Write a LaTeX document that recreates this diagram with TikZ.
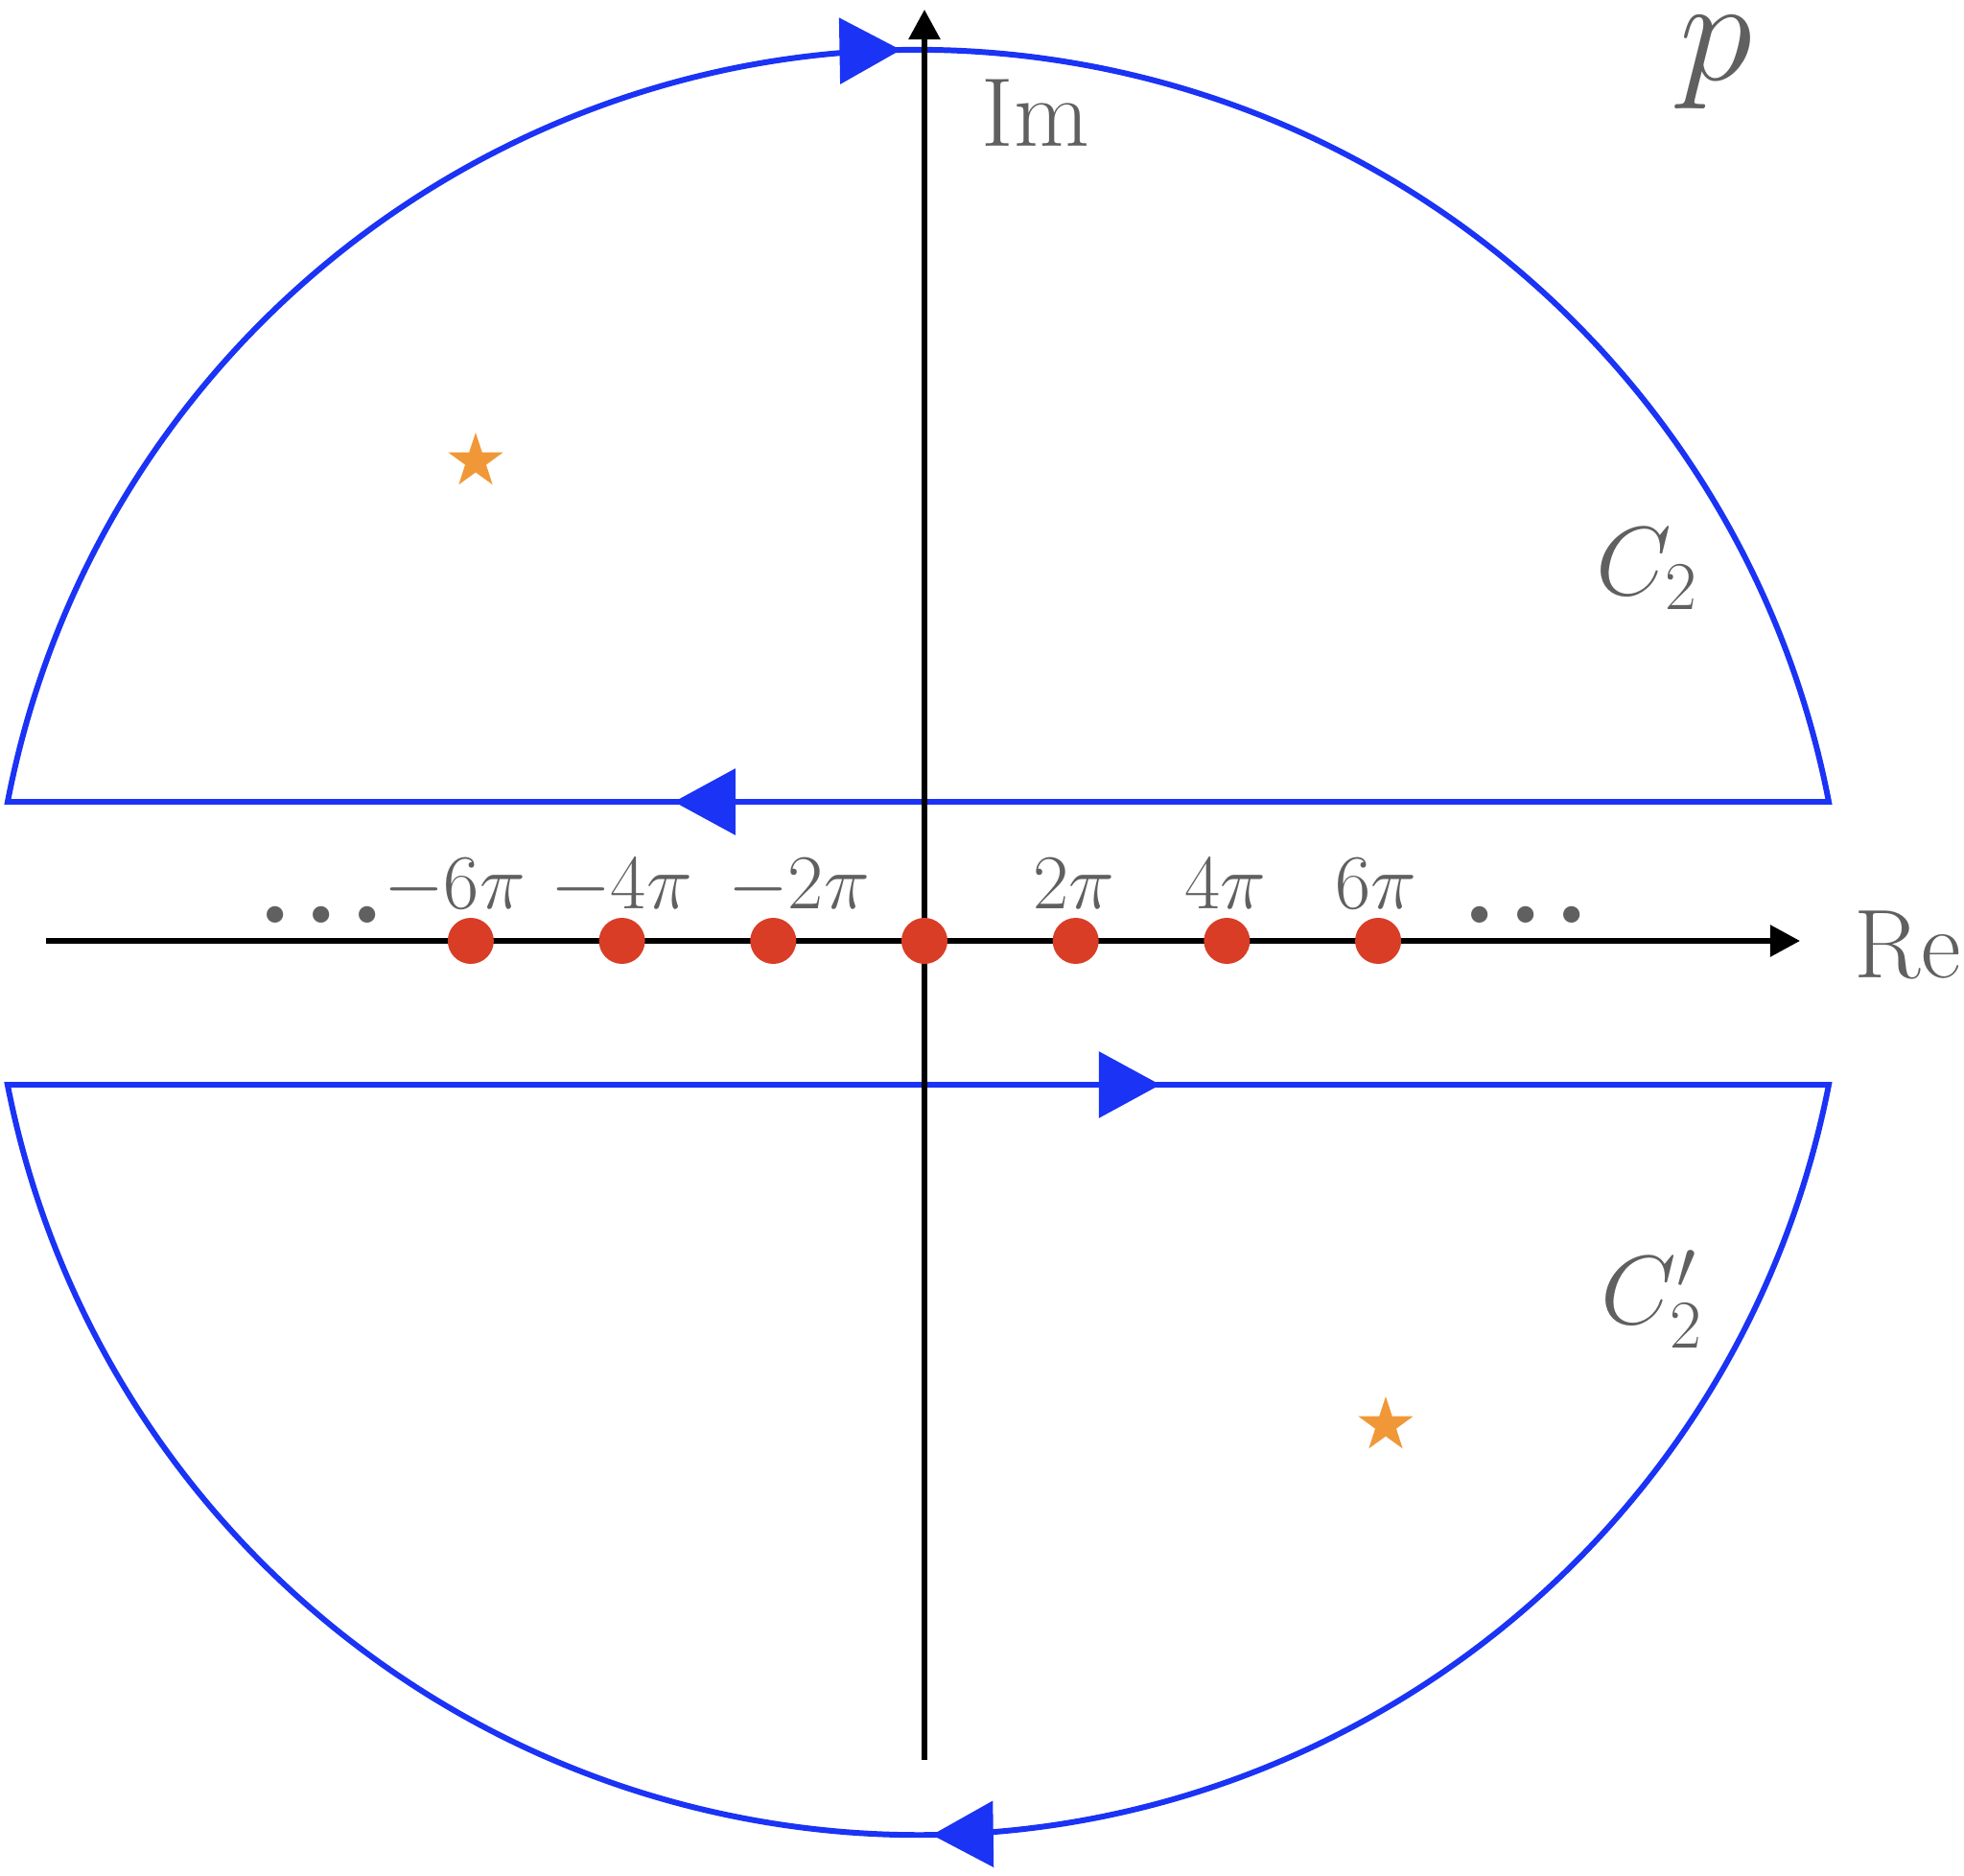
\RequirePackage{fix-cm}
\documentclass[tikz,border=0pt]{standalone}
\usetikzlibrary{arrows.meta, positioning, decorations.markings, shapes.geometric}
\definecolor{contourblue}{RGB}{26,51,245}
\definecolor{polered}{RGB}{217,61,38}
\definecolor{starorange}{RGB}{240,152,56}
\definecolor{labelgray}{RGB}{96,96,96}
\def\polesep{1.577}
\newcommand{\bigdots}{.\kern0.09em.\kern0.09em.}

\begin{document}
\begin{tikzpicture}[>={Triangle[length=3.1mm,width=3.2mm]}]
    \tikzstyle{axis}=[draw=black, line width=1.6pt, ->]
    \tikzstyle{contour}=[draw=contourblue, line width=1.7pt, line join=miter, postaction={decorate}]
    \tikzstyle{pole}=[circle, fill=polered, minimum size=4.8mm, inner sep=0pt]
    \tikzstyle{pole label}=[text=labelgray, anchor=base, inner sep=0pt, font=\fontsize{23}{23}\selectfont]
    \tikzstyle{axis label}=[text=labelgray, inner sep=0pt, font=\fontsize{29}{29}\selectfont]
    \tikzstyle{more}=[text=labelgray, anchor=base, inner sep=0pt, font=\fontsize{34}{34}\selectfont\bfseries]
    \tikzstyle{saddle}=[star, star points=5, star point ratio=2.6, fill=starorange, minimum size=6mm, inner sep=0pt]

    \useasboundingbox (-9.64,-9.75) rectangle (10.84,9.81);

    \coordinate (re-0) at (-9.16,0);
    \coordinate (re-1) at (9.13,0);
    \coordinate (im-0) at (0,-8.54);
    \coordinate (im-1) at (0,9.71);

    % upper contour C_2
    \coordinate (C2-a) at (-9.56,1.45);
    \coordinate (C2-b) at (9.43,1.45);
    \path[contour, decoration={markings,
            mark=at position 13.17cm with {\arrow{Triangle[length=6.4mm,width=6.8mm]}},
            mark=at position 38.74cm with {\arrow{Triangle[length=6.4mm,width=6.8mm]}}}]
        (C2-a) arc[start angle=169.09, end angle=10.91, radius=9.67] -- (C2-b) -- cycle;

    % lower contour C_2'
    \coordinate (C2p-a) at (-9.56,-1.50);
    \coordinate (C2p-b) at (9.43,-1.50);
    \path[contour, decoration={markings,
            mark=at position 12.02cm with {\arrow{Triangle[length=6.4mm,width=6.8mm]}},
            mark=at position 32.18cm with {\arrow{Triangle[length=6.4mm,width=6.8mm]}}}]
        (C2p-a) -- (C2p-b) arc[start angle=348.95, end angle=191.05, radius=9.675] -- cycle;

    \draw[axis] (re-0) -- (re-1);
    \draw[axis] (im-0) -- (im-1);

	\foreach \x in {-3,...,3}{
		\pgfmathsetmacro\px{\x*\polesep}
		\node[pole] (P\x) at (\px,0) {};
	}

	\foreach \k/\xpos in {-6/-4.90, -4/-3.16, -2/-1.31, 2/1.56, 4/3.14, 6/4.71}{
		\node[pole label] (L\k) at (\xpos,0.34) {$\k\pi$};
	}

    \node[more] (dots-l) at (-6.29,0.19) {\bigdots};
    \node[more] (dots-r) at (6.27,0.19) {\bigdots};

    \node[axis label, anchor=base] (im-label) at (1.16,8.29) {Im};
    \node[axis label, anchor=base west] (re-label) at (9.69,-0.38) {Re};
    \node[text=labelgray, inner sep=0pt, anchor=base, font=\fontsize{44}{44}\selectfont] (plane) at (8.26,8.98) {$p$};

    \node[axis label, anchor=base west] (C2) at (7.0,3.61) {$C_2$};
    \node[axis label, anchor=base west] (C2p) at (7.05,-3.99) {$C_2'$};

    \node[saddle] (S-1) at (-4.68,5.00) {};
    \node[saddle] (S-2) at (4.81,-5.05) {};
\end{tikzpicture}
\end{document}
